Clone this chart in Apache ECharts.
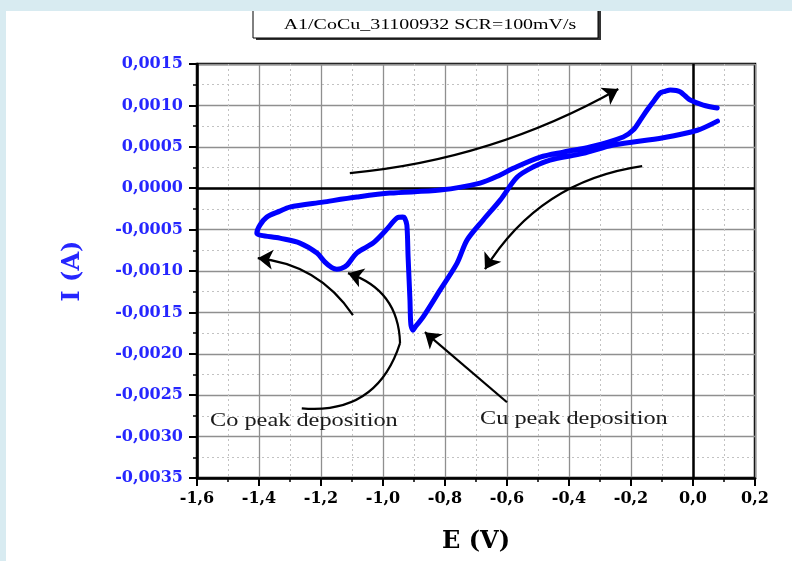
<!DOCTYPE html>
<html><head><meta charset="utf-8">
<script src="https://cdn.jsdelivr.net/npm/echarts@6/dist/echarts.min.js"></script>
<style>html,body{margin:0;padding:0;background:#fff}#c{width:792px;height:561px}</style>
</head><body><div id="c"></div>
<script>
// ---- CV data (E in V, I in A), cathodic sweep then anodic sweep ----
const cathE = [0.079, 0.014, -0.096, -0.257, -0.354, -0.461, -0.516, -0.567, -0.622, -0.677, -0.729, -0.761, -0.816, -0.871, -0.895, -0.903, -0.910, -0.913, -0.919, -0.923, -0.930, -0.936, -0.955, -0.990, -1.032, -1.084, -1.116, -1.135, -1.149, -1.165, -1.187, -1.213, -1.268, -1.333, -1.407];
const cathI = [0.00081, 0.00070, 0.00061, 0.00052, 0.00042, 0.00034, 0.000255, 0.000134, -0.000144, -0.000385, -0.000627, -0.000905, -0.001231, -0.001558, -0.00167, -0.001715, -0.00165, -0.001352, -0.000833, -0.000446, -0.00036, -0.000349, -0.000361, -0.000506, -0.000663, -0.00078, -0.000929, -0.00097, -0.000978, -0.00096, -0.000893, -0.000784, -0.000663, -0.000603, -0.000543];
const anodE = [-1.397, -1.375, -1.333, -1.301, -1.194, -1.084, -0.978, -0.816, -0.687, -0.622, -0.580, -0.493, -0.419, -0.332, -0.225, -0.193, -0.170, -0.148, -0.125, -0.106, -0.090, -0.073, -0.054, -0.041, -0.025, -0.009, 0.033, 0.078];
const anodI = [-0.000446, -0.000349, -0.000277, -0.000228, -0.000168, -0.000107, -0.000059, -0.000023, 0.000062, 0.00016, 0.00024, 0.000376, 0.000436, 0.000497, 0.000618, 0.000702, 0.000823, 0.000944, 0.00106, 0.00115, 0.00117, 0.001186, 0.00118, 0.001162, 0.001113, 0.001065, 0.001004, 0.000968];

// ---- annotation arrows: start / end points in data coordinates ----
const arrowStartE = [-1.107, -0.164, -1.097, -1.262, -0.945, -0.600];
const arrowStartI = [0.000183, 0.000267, -0.001534, -0.002658, -0.001872, -0.002585];
const arrowEndE   = [-0.241, -0.671, -1.404, -0.945, -1.113, -0.865];
const arrowEndI   = [0.001198, -0.000978, -0.000845, -0.001872, -0.001026, -0.001739];
const arrowBend   = [-0.107, -0.234, -0.235, -0.4, -0.35, 0];
const arrowHasHead = [true, true, true, false, true, true];

const titleText = 'A1/CoCu_31100932 SCR=100mV/s';
const coLabel = 'Co peak deposition';
const cuLabel = 'Cu peak deposition';

const zip = (a, b) => a.map((v, i) => [v, b[i]]);
const cvData = zip(cathE, cathI).concat(zip(anodE, anodI));

const axisFont = 'DejaVu Serif';
const blue = '#2626ff';

const series = [{
  type: 'line', data: cvData, showSymbol: false, smooth: 0.3, z: 5,
  lineStyle: { color: '#0000ff', width: 5, cap: 'round', join: 'round' },
  markLine: {
    silent: true, symbol: ['none', 'none'], label: { show: false },
    lineStyle: { color: '#000', width: 2.5, type: 'solid' },
    data: [{ yAxis: 0 }, { xAxis: 0 }]
  }
}];
arrowStartE.forEach((_, k) => {
  series.push({
    type: 'lines', coordinateSystem: 'cartesian2d', z: 7,
    symbol: ['none', arrowHasHead[k] ? 'arrow' : 'none'], symbolSize: 15,
    lineStyle: { color: '#000', width: 2.2, opacity: 1, curveness: arrowBend[k] },
    data: [{ coords: [[arrowStartE[k], arrowStartI[k]], [arrowEndE[k], arrowEndI[k]]] }]
  });
});

const chart = echarts.init(document.getElementById('c'));
chart.setOption({
  animation: false,
  backgroundColor: '#ffffff',
  grid: { left: 197, right: 37, top: 64, bottom: 83, show: true, borderColor: '#000', borderWidth: 2.5 },
  xAxis: {
    type: 'value', min: -1.6, max: 0.2, interval: 0.2,
    name: 'E (V)', nameLocation: 'middle', nameGap: 52,
    nameTextStyle: { fontFamily: axisFont, fontWeight: 'bold', fontSize: 24, color: '#000' },
    axisLine: { show: true, onZero: false, lineStyle: { color: '#000', width: 2.5 } },
    axisTick: { show: true, length: 8, lineStyle: { color: '#000', width: 2 } },
    minorTick: { show: true, splitNumber: 2, length: 4, lineStyle: { color: '#000', width: 1.5 } },
    splitLine: { show: true, lineStyle: { color: '#8f8f8f', width: 1.3 } },
    minorSplitLine: { show: true, lineStyle: { color: '#c2c2c2', width: 1, type: [2, 3] } },
    axisLabel: {
      margin: 13, fontFamily: axisFont, fontWeight: 'bold', fontSize: 16, color: '#000',
      formatter: v => (Math.abs(v) < 1e-9 ? 0 : v).toFixed(1).replace('.', ',')
    }
  },
  yAxis: {
    type: 'value', min: -0.0035, max: 0.0015, interval: 0.0005,
    name: 'I (A)', nameLocation: 'middle', nameGap: 112,
    nameTextStyle: { fontFamily: axisFont, fontWeight: 'bold', fontSize: 24, color: blue },
    axisLine: { show: true, onZero: false, lineStyle: { color: '#000', width: 2.5 } },
    axisTick: { show: true, length: 8, lineStyle: { color: '#000', width: 2 } },
    minorTick: { show: true, splitNumber: 2, length: 4, lineStyle: { color: '#000', width: 1.5 } },
    splitLine: { show: true, lineStyle: { color: '#8f8f8f', width: 1.3 } },
    minorSplitLine: { show: true, lineStyle: { color: '#c2c2c2', width: 1, type: [2, 3] } },
    axisLabel: {
      margin: 14, fontFamily: axisFont, fontWeight: 'bold', fontSize: 16, color: blue,
      formatter: v => (Math.abs(v) < 1e-12 ? 0 : v).toFixed(4).replace('.', ',')
    }
  },
  series: series,
  graphic: [
    { type: 'rect', z: 100, shape: { x: 256, y: 4, width: 345, height: 36 }, style: { fill: '#333' } },
    { type: 'rect', z: 101, shape: { x: 253, y: 2, width: 345, height: 36 }, style: { fill: '#fff', stroke: '#000', lineWidth: 1 } },
    { type: 'text', z: 102, x: 430, y: 25, scaleX: 1.33,
      style: { text: titleText, fontFamily: 'Liberation Serif', fontSize: 15, fill: '#000', align: 'center', verticalAlign: 'middle' } },
    { type: 'rect', z: 103, shape: { x: 0, y: 0, width: 792, height: 11 }, style: { fill: '#d8ebf1' } },
    { type: 'rect', z: 103, shape: { x: 0, y: 0, width: 6, height: 561 }, style: { fill: '#d8ebf1' } },
    { type: 'text', z: 104, x: 210, y: 421, scaleX: 1.28,
      style: { text: coLabel, fontFamily: 'Liberation Serif', fontSize: 19, fill: '#1a1a1a', align: 'left', verticalAlign: 'middle' } },
    { type: 'text', z: 104, x: 480, y: 419, scaleX: 1.28,
      style: { text: cuLabel, fontFamily: 'Liberation Serif', fontSize: 19, fill: '#1a1a1a', align: 'left', verticalAlign: 'middle' } }
  ]
});
</script>
</body></html>
